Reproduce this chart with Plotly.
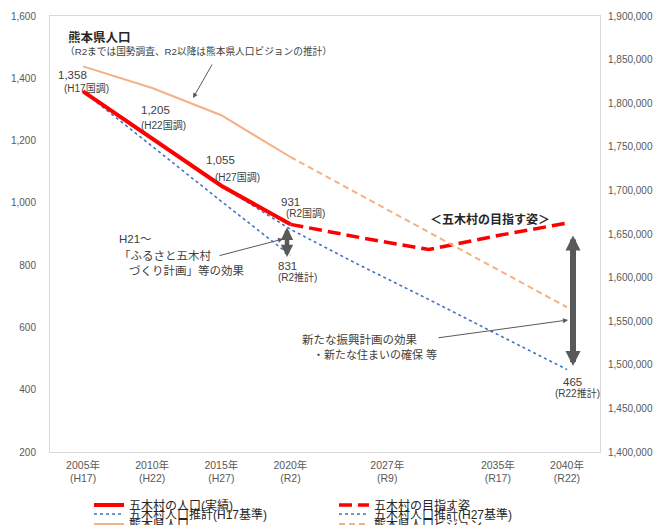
import plotly.graph_objects as go

# ---------------- data ----------------
years_actual = [2005, 2010, 2015, 2020]
pop_actual = [1358, 1205, 1055, 931]

years_goal = [2020, 2025, 2030, 2035, 2040]
pop_goal = [931, 889, 850, 895, 935]

years_h17 = [2005, 2010, 2015, 2020]
pop_h17 = [1358, 1180, 1005, 831]

years_h27 = [2015, 2020, 2025, 2030, 2035, 2040]
pop_h27 = [1055, 915, 800, 690, 577, 465]

years_pref = [2005, 2010, 2015, 2020]
pop_pref = [1842233, 1817426, 1786170, 1738301]

years_pref_vision = [2020, 2025, 2030, 2035, 2040]
pop_pref_vision = [1738301, 1695000, 1652000, 1609000, 1566000]

tick_years = [2005, 2010, 2015, 2020, 2027, 2035, 2040]
tick_labels = ["2005年<br>(H17)", "2010年<br>(H22)", "2015年<br>(H27)", "2020年<br>(R2)",
               "2027年<br>(R9)", "2035年<br>(R17)", "2040年<br>(R22)"]

# ---------------- layout constants (screen pixels) ----------------
W, H = 668, 525
OFF = 8                      # page body margin
PL, PR, PT, PB = 50, 600, 16, 452   # plot area on screen
X0, X1 = 2002.61, 2042.39
Y0, Y1 = 200, 1600
FONT = "Liberation Sans, Noto Sans CJK JP"
PW, PH = PR - PL, PB - PT

def X(px):
    return X0 + (px - PL) / PW * (X1 - X0)

def Y(py):
    return Y1 - (py - PT) / PH * (Y1 - Y0)

fig = go.Figure()

fig.add_trace(go.Scatter(x=years_pref, y=pop_pref, yaxis="y2", mode="lines",
                         line=dict(color="#F4B183", width=2), name="熊本県人口", legend="legend3"))
fig.add_trace(go.Scatter(x=years_pref_vision, y=pop_pref_vision, yaxis="y2", mode="lines",
                         line=dict(color="#F4B183", width=2, dash="6px,4px"), name="熊本県人口ビジョン",
                         legend="legend3"))
fig.add_trace(go.Scatter(x=years_h17, y=pop_h17, mode="lines",
                         line=dict(color="#4472C4", width=1.6, dash="dot"),
                         name="五木村人口推計(H17基準)", legend="legend2"))
fig.add_trace(go.Scatter(x=years_h27, y=pop_h27, mode="lines",
                         line=dict(color="#4472C4", width=1.6, dash="dot"),
                         name="五木村人口推計(H27基準)", legend="legend2"))
fig.add_trace(go.Scatter(x=years_actual, y=pop_actual, mode="lines",
                         line=dict(color="#FF0000", width=4), name="五木村の人口(実績)", legend="legend"))
fig.add_trace(go.Scatter(x=years_goal, y=pop_goal, mode="lines",
                         line=dict(color="#FF0000", width=3.5, dash="13px,6px"),
                         name="五木村の目指す姿", legend="legend"))

TXT = "#404040"
ann = []

def text(px, py, s, size=11.5, color=TXT, bold=False, anchor="center"):
    if bold:
        s = "<b>" + s + "</b>"
    ann.append(dict(x=X(px), y=Y(py), text=s, showarrow=False, xanchor=anchor, yanchor="middle",
                    font=dict(family=FONT, size=size, color=color)))

def arrow(tx, ty, hx, hy, width=1, color="#595959", both=False, size=1.0, head=2):
    d = dict(x=X(hx), y=Y(hy), ax=X(tx), ay=Y(ty), axref="x", ayref="y", xref="x", yref="y",
             showarrow=True, text="", arrowcolor=color, arrowwidth=width, arrowhead=head,
             arrowsize=size)
    if both:
        d["arrowside"] = "end+start"
        d["startarrowhead"] = head
        d["startarrowsize"] = size
    ann.append(d)

text(66, 37, "熊本県人口", size=12.5, color="#262626", bold=True, anchor="left")
text(63, 51, "（R2までは国勢調査、R2以降は熊本県人口ビジョンの推計）", size=9.7, anchor="left")
arrow(213, 63, 193, 98)

text(72, 75, "1,358")
text(86, 88, "(H17国調)", size=10)
text(155, 110, "1,205")
text(163, 125, "(H22国調)", size=10)
text(220, 160, "1,055")
text(237, 177, "(H27国調)", size=10)
text(290, 202, "931")
text(305, 213, "(R2国調)", size=10)
text(287, 266, "831")
text(297, 277, "(R2推計)", size=10)
text(572, 382, "465")
text(577, 393, "(R22推計)", size=10)

text(117, 239, "H21～", anchor="left")
text(117, 255, "「ふるさと五木村", anchor="left")
text(127, 270, "づくり計画」等の効果", anchor="left")
arrow(218, 256, 283, 239)

text(490, 219, "＜五木村の目指す姿＞", size=12, color="#262626", bold=True)
text(300, 339, "新たな振興計画の効果", anchor="left")
text(311, 354, "・新たな住まいの確保 等", size=11, anchor="left")
arrow(437, 338, 568, 320)

arrow(287, 226, 287, 257, width=4.5, both=True, size=0.55)
arrow(573, 234, 573, 366, width=6, both=True, size=0.5)

axis_font = dict(family=FONT, size=10, color="#595959")
leg_common = dict(orientation="h", xanchor="left", yanchor="middle", bgcolor="rgba(0,0,0,0)",
                  font=dict(family=FONT, size=12, color="#262626"), entrywidth=200,
                  entrywidthmode="pixels", itemwidth=30, borderwidth=0)
LX = (89 - PL) / PW

fig.update_layout(
    width=W, height=H, template="none",
    margin=dict(l=PL - OFF, r=W - (PR - OFF), t=PT - OFF, b=H - (PB - OFF), autoexpand=False),
    paper_bgcolor="white", plot_bgcolor="white",
    font=dict(family=FONT),
    showlegend=True,
    xaxis=dict(range=[X0, X1], tickvals=tick_years, ticktext=tick_labels, showgrid=False,
               zeroline=False, showline=True, linecolor="#D9D9D9", linewidth=1, mirror=True,
               ticks="", tickfont=dict(family=FONT, size=10.5, color="#595959"),
               ticklabelstandoff=3),
    yaxis=dict(range=[Y0, Y1], dtick=200, tickformat=",d", showgrid=False, zeroline=False,
               showline=True, linecolor="#D9D9D9", linewidth=1, ticks="", tickfont=axis_font,
               ticklabelstandoff=11),
    yaxis2=dict(range=[1400000, 1900000], dtick=50000, tickformat=",d", overlaying="y",
                side="right", showgrid=False, zeroline=False, showline=True,
                linecolor="#D9D9D9", linewidth=1, ticks="", tickfont=axis_font,
                ticklabelstandoff=5),
    legend=dict(x=LX, y=(PB - 505) / PH, **leg_common),
    legend2=dict(x=LX, y=(PB - 514) / PH, **leg_common),
    legend3=dict(x=LX, y=(PB - 524) / PH, **leg_common),
    annotations=ann,
)

fig.write_html("out.html")
